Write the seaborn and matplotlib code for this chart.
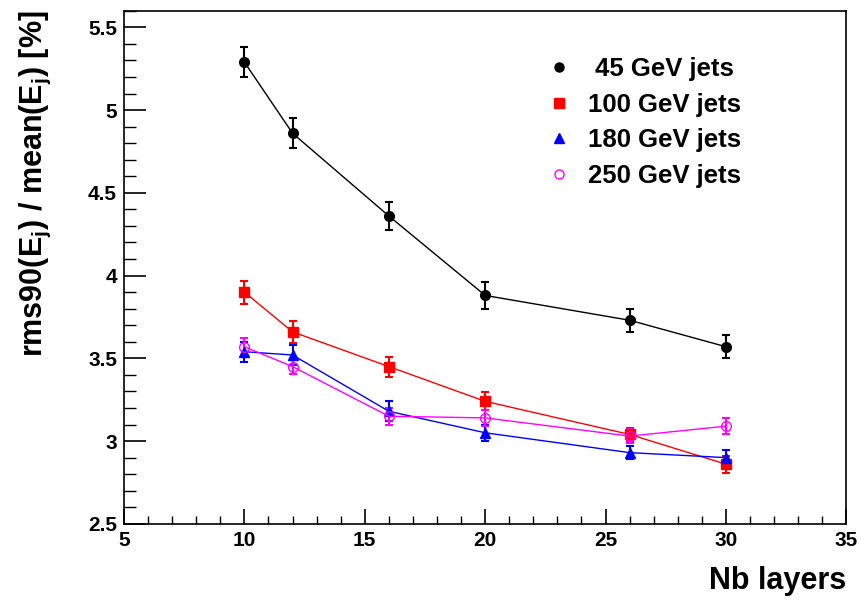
import matplotlib
matplotlib.use("Agg")
import matplotlib.pyplot as plt
from matplotlib.ticker import MultipleLocator
from matplotlib.lines import Line2D
import seaborn as sns
import pandas as pd

layers = [10, 12, 16, 20, 26, 30]
labels = [" 45 GeV jets", "100 GeV jets", "180 GeV jets", "250 GeV jets"]
e45 = [5.29, 4.86, 4.36, 3.88, 3.73, 3.57]
e45_err = [0.09, 0.09, 0.085, 0.08, 0.07, 0.07]
e100 = [3.90, 3.66, 3.45, 3.24, 3.04, 2.86]
e100_err = [0.07, 0.065, 0.06, 0.055, 0.04, 0.05]
e180 = [3.54, 3.52, 3.18, 3.05, 2.93, 2.90]
e180_err = [0.06, 0.06, 0.06, 0.05, 0.04, 0.045]
e250 = [3.57, 3.45, 3.15, 3.14, 3.03, 3.09]
e250_err = [0.05, 0.045, 0.05, 0.05, 0.04, 0.05]
ytick_vals = [2.5, 3, 3.5, 4, 4.5, 5, 5.5]
ytick_labels = ["2.5", "3", "3.5", "4", "4.5", "5", "5.5"]

colors = ["black", "red", "blue", "magenta"]
markers = ["o", "s", "^", "o"]
msizes = [7, 6.5, 6.5, 7]
filled_flags = [True, True, True, False]

sns.set_theme(style="ticks")
plt.rcParams['font.family'] = ['Liberation Sans', 'DejaVu Sans']
plt.rcParams['font.weight'] = 'bold'
plt.rcParams['mathtext.default'] = 'regular'
for k in ['text.color', 'axes.labelcolor', 'xtick.color', 'ytick.color',
          'axes.edgecolor', 'xtick.labelcolor', 'ytick.labelcolor']:
    plt.rcParams[k] = 'black'

fig = plt.figure(figsize=(8.61, 6.0), dpi=100)
ax = fig.add_axes([0.144, 0.127, 0.839, 0.855])

series = [e45, e100, e180, e250]
errs = [e45_err, e100_err, e180_err, e250_err]
frames = []
for lab, vals in zip(labels, series):
    frames.append(pd.DataFrame({"layers": layers, "res": vals, "sample": lab}))
df = pd.concat(frames, ignore_index=True)

for lab, err, c, m, ms, filled in zip(labels, errs, colors, markers, msizes, filled_flags):
    sub = df[df["sample"] == lab]
    ax.errorbar(sub["layers"], sub["res"], yerr=err, fmt="none", ecolor=c,
                elinewidth=1.5, capsize=3, capthick=1.5, zorder=2)
    sns.lineplot(data=sub, x="layers", y="res", ax=ax, color=c, linewidth=1.0,
                 marker=m, markersize=ms,
                 markerfacecolor=c if filled else "none",
                 markeredgecolor=c, markeredgewidth=1.0,
                 legend=False, zorder=3, estimator=None)

ax.set_xlim(5, 35)
ax.set_ylim(2.5, 5.6)
ax.xaxis.set_major_locator(MultipleLocator(5))
ax.xaxis.set_minor_locator(MultipleLocator(1))
ax.yaxis.set_minor_locator(MultipleLocator(0.1))
ax.set_yticks(ytick_vals)
ax.set_yticklabels(ytick_labels)
ax.tick_params(axis="both", which="both", direction="in", labelsize=15)
ax.tick_params(axis="y", which="major", length=16, width=1.2, pad=5)
ax.tick_params(axis="y", which="minor", length=8.5, width=1.0)
ax.tick_params(axis="x", which="major", length=11, width=1.2, pad=5)
ax.tick_params(axis="x", which="minor", length=6, width=1.0)
for lbl in ax.get_xticklabels() + ax.get_yticklabels():
    lbl.set_fontweight("bold")
for s in ax.spines.values():
    s.set_linewidth(1.2)
    s.set_visible(True)
    s.set_color("black")

ax.set_xlabel("Nb layers", fontsize=22, fontweight="bold", loc="right", labelpad=12)
ax.set_ylabel(r"rms90(E$_{j}$) / mean(E$_{j}$) [%]", fontsize=22, fontweight="bold",
              loc="top", labelpad=25)

handles = []
for c, m, filled in zip(colors, markers, filled_flags):
    handles.append(Line2D([], [], linestyle="none", marker=m, color=c,
                          markerfacecolor=c if filled else "none",
                          markeredgecolor=c, markersize=6.5))
leg = ax.legend(handles, labels, loc="upper left", bbox_to_anchor=(0.584, 0.91),
                frameon=False, prop={"size": 18.5, "weight": "bold"}, borderpad=0,
                handletextpad=0.65, labelspacing=0.45, handlelength=1.0,
                borderaxespad=0)

fig.savefig("out.png", dpi=100)
